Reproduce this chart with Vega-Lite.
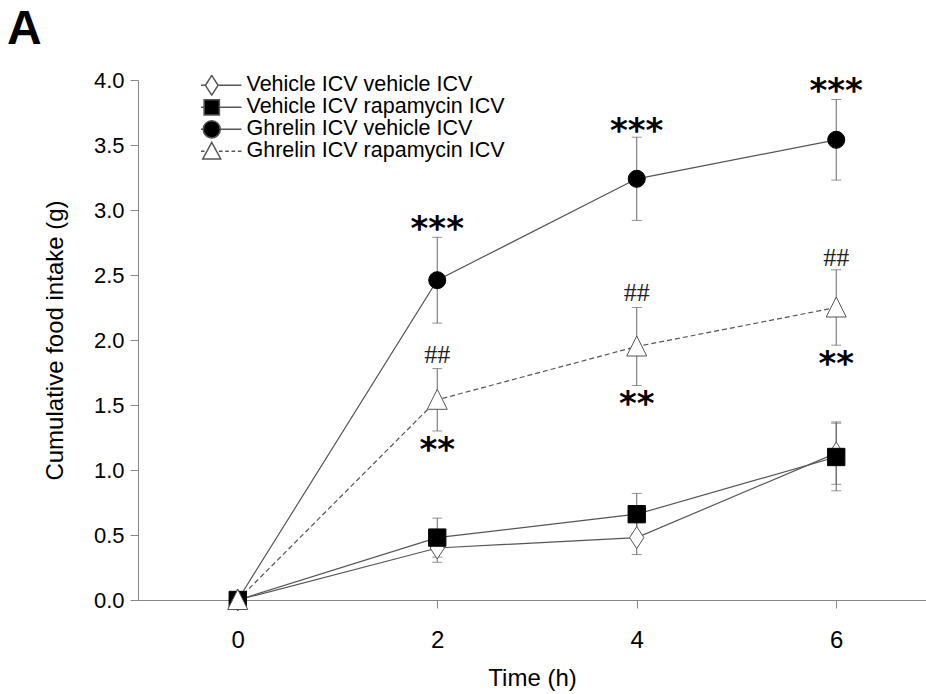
{
  "$schema": "https://vega.github.io/schema/vega-lite/v6.json",
  "width": 788,
  "height": 520,
  "autosize": {"type": "none"},
  "padding": {"left": 138, "top": 80, "right": 0, "bottom": 94},
  "background": "white",
  "title": {"text": "A", "anchor": "start", "frame": "group", "dx": -131, "offset": 15, "fontSize": 48, "fontWeight": "bold", "font": "Liberation Sans", "color": "black"},
  "config": {
    "view": {"stroke": null},
    "axis": {
      "grid": false,
      "domainColor": "#888888",
      "tickColor": "#888888",
      "tickSize": 8,
      "labelFont": "Liberation Sans",
      "labelFontSize": 22,
      "labelColor": "black",
      "titleFont": "Liberation Sans",
      "titleFontSize": 24,
      "titleFontWeight": "normal",
      "titleColor": "black"
    },
    "legend": {
      "labelFont": "Liberation Sans",
      "labelFontSize": 21.5,
      "labelColor": "black",
      "labelLimit": 500
    }
  },
  "datasets": {
    "means": [
      {"series": "Vehicle ICV vehicle ICV", "time": 0, "mean": 0, "sem": 0},
      {"series": "Vehicle ICV vehicle ICV", "time": 2, "mean": 0.40, "sem": 0.11},
      {"series": "Vehicle ICV vehicle ICV", "time": 4, "mean": 0.48, "sem": 0.13},
      {"series": "Vehicle ICV vehicle ICV", "time": 6, "mean": 1.13, "sem": 0.24},
      {"series": "Vehicle ICV rapamycin ICV", "time": 0, "mean": 0, "sem": 0},
      {"series": "Vehicle ICV rapamycin ICV", "time": 2, "mean": 0.48, "sem": 0.15},
      {"series": "Vehicle ICV rapamycin ICV", "time": 4, "mean": 0.66, "sem": 0.16},
      {"series": "Vehicle ICV rapamycin ICV", "time": 6, "mean": 1.10, "sem": 0.26},
      {"series": "Ghrelin ICV vehicle ICV", "time": 0, "mean": 0, "sem": 0},
      {"series": "Ghrelin ICV vehicle ICV", "time": 2, "mean": 2.46, "sem": 0.33},
      {"series": "Ghrelin ICV vehicle ICV", "time": 4, "mean": 3.24, "sem": 0.32},
      {"series": "Ghrelin ICV vehicle ICV", "time": 6, "mean": 3.54, "sem": 0.31},
      {"series": "Ghrelin ICV rapamycin ICV", "time": 0, "mean": 0, "sem": 0},
      {"series": "Ghrelin ICV rapamycin ICV", "time": 2, "mean": 1.54, "sem": 0.24},
      {"series": "Ghrelin ICV rapamycin ICV", "time": 4, "mean": 1.95, "sem": 0.30},
      {"series": "Ghrelin ICV rapamycin ICV", "time": 6, "mean": 2.25, "sem": 0.29}
    ],
    "marks": [
      {"time": 2, "pos": 2.885, "label": "***", "kind": "star"},
      {"time": 4, "pos": 3.64, "label": "***", "kind": "star"},
      {"time": 6, "pos": 3.95, "label": "***", "kind": "star"},
      {"time": 2, "pos": 1.185, "label": "**", "kind": "star"},
      {"time": 4, "pos": 1.54, "label": "**", "kind": "star"},
      {"time": 6, "pos": 1.85, "label": "**", "kind": "star"},
      {"time": 2, "pos": 1.885, "label": "##", "kind": "hash"},
      {"time": 4, "pos": 2.36, "label": "##", "kind": "hash"},
      {"time": 6, "pos": 2.63, "label": "##", "kind": "hash"}
    ]
  },
  "layer": [
    {
      "data": {"name": "means"},
      "mark": {"type": "errorbar", "ticks": {"size": 10}, "color": "#666666", "thickness": 1},
      "encoding": {
        "x": {"field": "time", "type": "quantitative", "scale": {"domain": [-1, 6.9], "nice": false, "zero": false},
              "axis": {"values": [0, 2, 4, 6], "format": "d", "title": "Time (h)", "titlePadding": 14, "labelPadding": 20, "labelFontSize": 24}},
        "y": {"field": "mean", "type": "quantitative", "scale": {"domain": [0, 4], "nice": false},
              "axis": {"values": [0, 0.5, 1, 1.5, 2, 2.5, 3, 3.5, 4], "format": ".1f", "title": "Cumulative food intake (g)", "titlePadding": 26, "labelPadding": 6}},
        "yError": {"field": "sem"},
        "detail": {"field": "series"}
      }
    },
    {
      "data": {"name": "means"},
      "transform": [{"filter": {"field": "series", "oneOf": ["Vehicle ICV vehicle ICV", "Vehicle ICV rapamycin ICV", "Ghrelin ICV vehicle ICV"]}}],
      "mark": {"type": "line", "color": "#555555", "strokeWidth": 1.2},
      "encoding": {
        "x": {"field": "time", "type": "quantitative"},
        "y": {"field": "mean", "type": "quantitative"},
        "detail": {"field": "series"}
      }
    },
    {
      "data": {"name": "means"},
      "transform": [{"filter": {"field": "series", "equal": "Ghrelin ICV rapamycin ICV"}}],
      "mark": {"type": "line", "color": "#555555", "strokeWidth": 1.2, "strokeDash": [5, 3]},
      "encoding": {
        "x": {"field": "time", "type": "quantitative"},
        "y": {"field": "mean", "type": "quantitative"}
      }
    },
    {
      "data": {"name": "means"},
      "transform": [{"filter": {"field": "series", "equal": "Vehicle ICV vehicle ICV"}}],
      "mark": {"type": "point", "shape": "M0,-1L0.65,0L0,1L-0.65,0Z", "size": 484, "filled": true, "fill": "white", "stroke": "#555555", "strokeWidth": 1, "opacity": 1},
      "encoding": {"x": {"field": "time", "type": "quantitative"}, "y": {"field": "mean", "type": "quantitative"}}
    },
    {
      "data": {"name": "means"},
      "transform": [{"filter": {"field": "series", "equal": "Ghrelin ICV vehicle ICV"}}],
      "mark": {"type": "point", "shape": "circle", "size": 290, "filled": true, "fill": "black", "stroke": "black", "strokeWidth": 1, "opacity": 1},
      "encoding": {"x": {"field": "time", "type": "quantitative"}, "y": {"field": "mean", "type": "quantitative"}}
    },
    {
      "data": {"name": "means"},
      "transform": [{"filter": {"field": "series", "equal": "Vehicle ICV rapamycin ICV"}}],
      "mark": {"type": "point", "shape": "square", "size": 300, "filled": true, "fill": "black", "stroke": "black", "strokeWidth": 1, "opacity": 1},
      "encoding": {"x": {"field": "time", "type": "quantitative"}, "y": {"field": "mean", "type": "quantitative"}}
    },
    {
      "data": {"name": "means"},
      "transform": [{"filter": {"field": "series", "equal": "Ghrelin ICV rapamycin ICV"}}],
      "mark": {"type": "point", "shape": "M0,-1.05L1,0.95L-1,0.95Z", "size": 400, "filled": true, "fill": "white", "stroke": "#555555", "strokeWidth": 1, "opacity": 1},
      "encoding": {"x": {"field": "time", "type": "quantitative"}, "y": {"field": "mean", "type": "quantitative"}}
    },
    {
      "data": {"name": "means"},
      "mark": {"type": "point", "filled": true, "stroke": "#555555", "strokeWidth": 1, "opacity": 0},
      "encoding": {
        "x": {"field": "time", "type": "quantitative"},
        "y": {"field": "mean", "type": "quantitative"},
        "shape": {"field": "series", "type": "nominal",
          "scale": {"domain": ["Vehicle ICV vehicle ICV", "Vehicle ICV rapamycin ICV", "Ghrelin ICV vehicle ICV", "Ghrelin ICV rapamycin ICV"],
                    "range": [
                      "M-3.3,0H-0.7M0.7,0H3.3M0,-1.1L0.7,0L0,1.1L-0.7,0Z",
                      "M-3.3,0H-0.85M0.85,0H3.3M-0.85,-0.85H0.85V0.85H-0.85Z",
                      "M-3.3,0H-0.95M0.95,0H3.3M-0.95,0A0.95,0.95 0 1,1 0.95,0A0.95,0.95 0 1,1 -0.95,0Z",
                      "M-3.3,0H-2.9M-2.6,0H-2.2M-1.9,0H-1.5M-1.2,0H-0.8M0.8,0H1.2M1.5,0H1.9M2.2,0H2.6M2.9,0H3.3M0,-1L1,0.85L-1,0.85Z"
                    ]},
          "legend": {"title": null, "orient": "none", "legendX": 63, "legendY": -5, "symbolSize": 324, "rowPadding": 0, "clipHeight": 20.7, "labelOffset": 24, "symbolOpacity": 1,
                     "encode": {"symbols": {"update": {"stroke": {"value": "#555555"}, "strokeWidth": {"value": 1}, "opacity": {"value": 1}}}}}},
        "fill": {"field": "series", "type": "nominal",
          "scale": {"domain": ["Vehicle ICV vehicle ICV", "Vehicle ICV rapamycin ICV", "Ghrelin ICV vehicle ICV", "Ghrelin ICV rapamycin ICV"],
                    "range": ["white", "black", "black", "white"]},
          "legend": {"title": null, "orient": "none", "legendX": 63, "legendY": -5, "symbolSize": 324, "rowPadding": 0, "clipHeight": 20.7, "labelOffset": 24, "symbolOpacity": 1,
                     "encode": {"symbols": {"update": {"stroke": {"value": "#555555"}, "strokeWidth": {"value": 1}, "opacity": {"value": 1}}}}}}
      }
    },
    {
      "data": {"name": "marks"},
      "transform": [{"filter": {"field": "kind", "equal": "star"}}],
      "mark": {"type": "text", "font": "DejaVu Sans", "fontSize": 34, "fontWeight": "bold", "color": "black", "baseline": "middle", "dy": 5},
      "encoding": {
        "x": {"field": "time", "type": "quantitative"},
        "y": {"field": "pos", "type": "quantitative"},
        "text": {"field": "label"}
      }
    },
    {
      "data": {"name": "marks"},
      "transform": [{"filter": {"field": "kind", "equal": "hash"}}],
      "mark": {"type": "text", "font": "Liberation Serif", "fontSize": 26, "color": "#222222", "baseline": "middle"},
      "encoding": {
        "x": {"field": "time", "type": "quantitative"},
        "y": {"field": "pos", "type": "quantitative"},
        "text": {"field": "label"}
      }
    }
  ]
}
